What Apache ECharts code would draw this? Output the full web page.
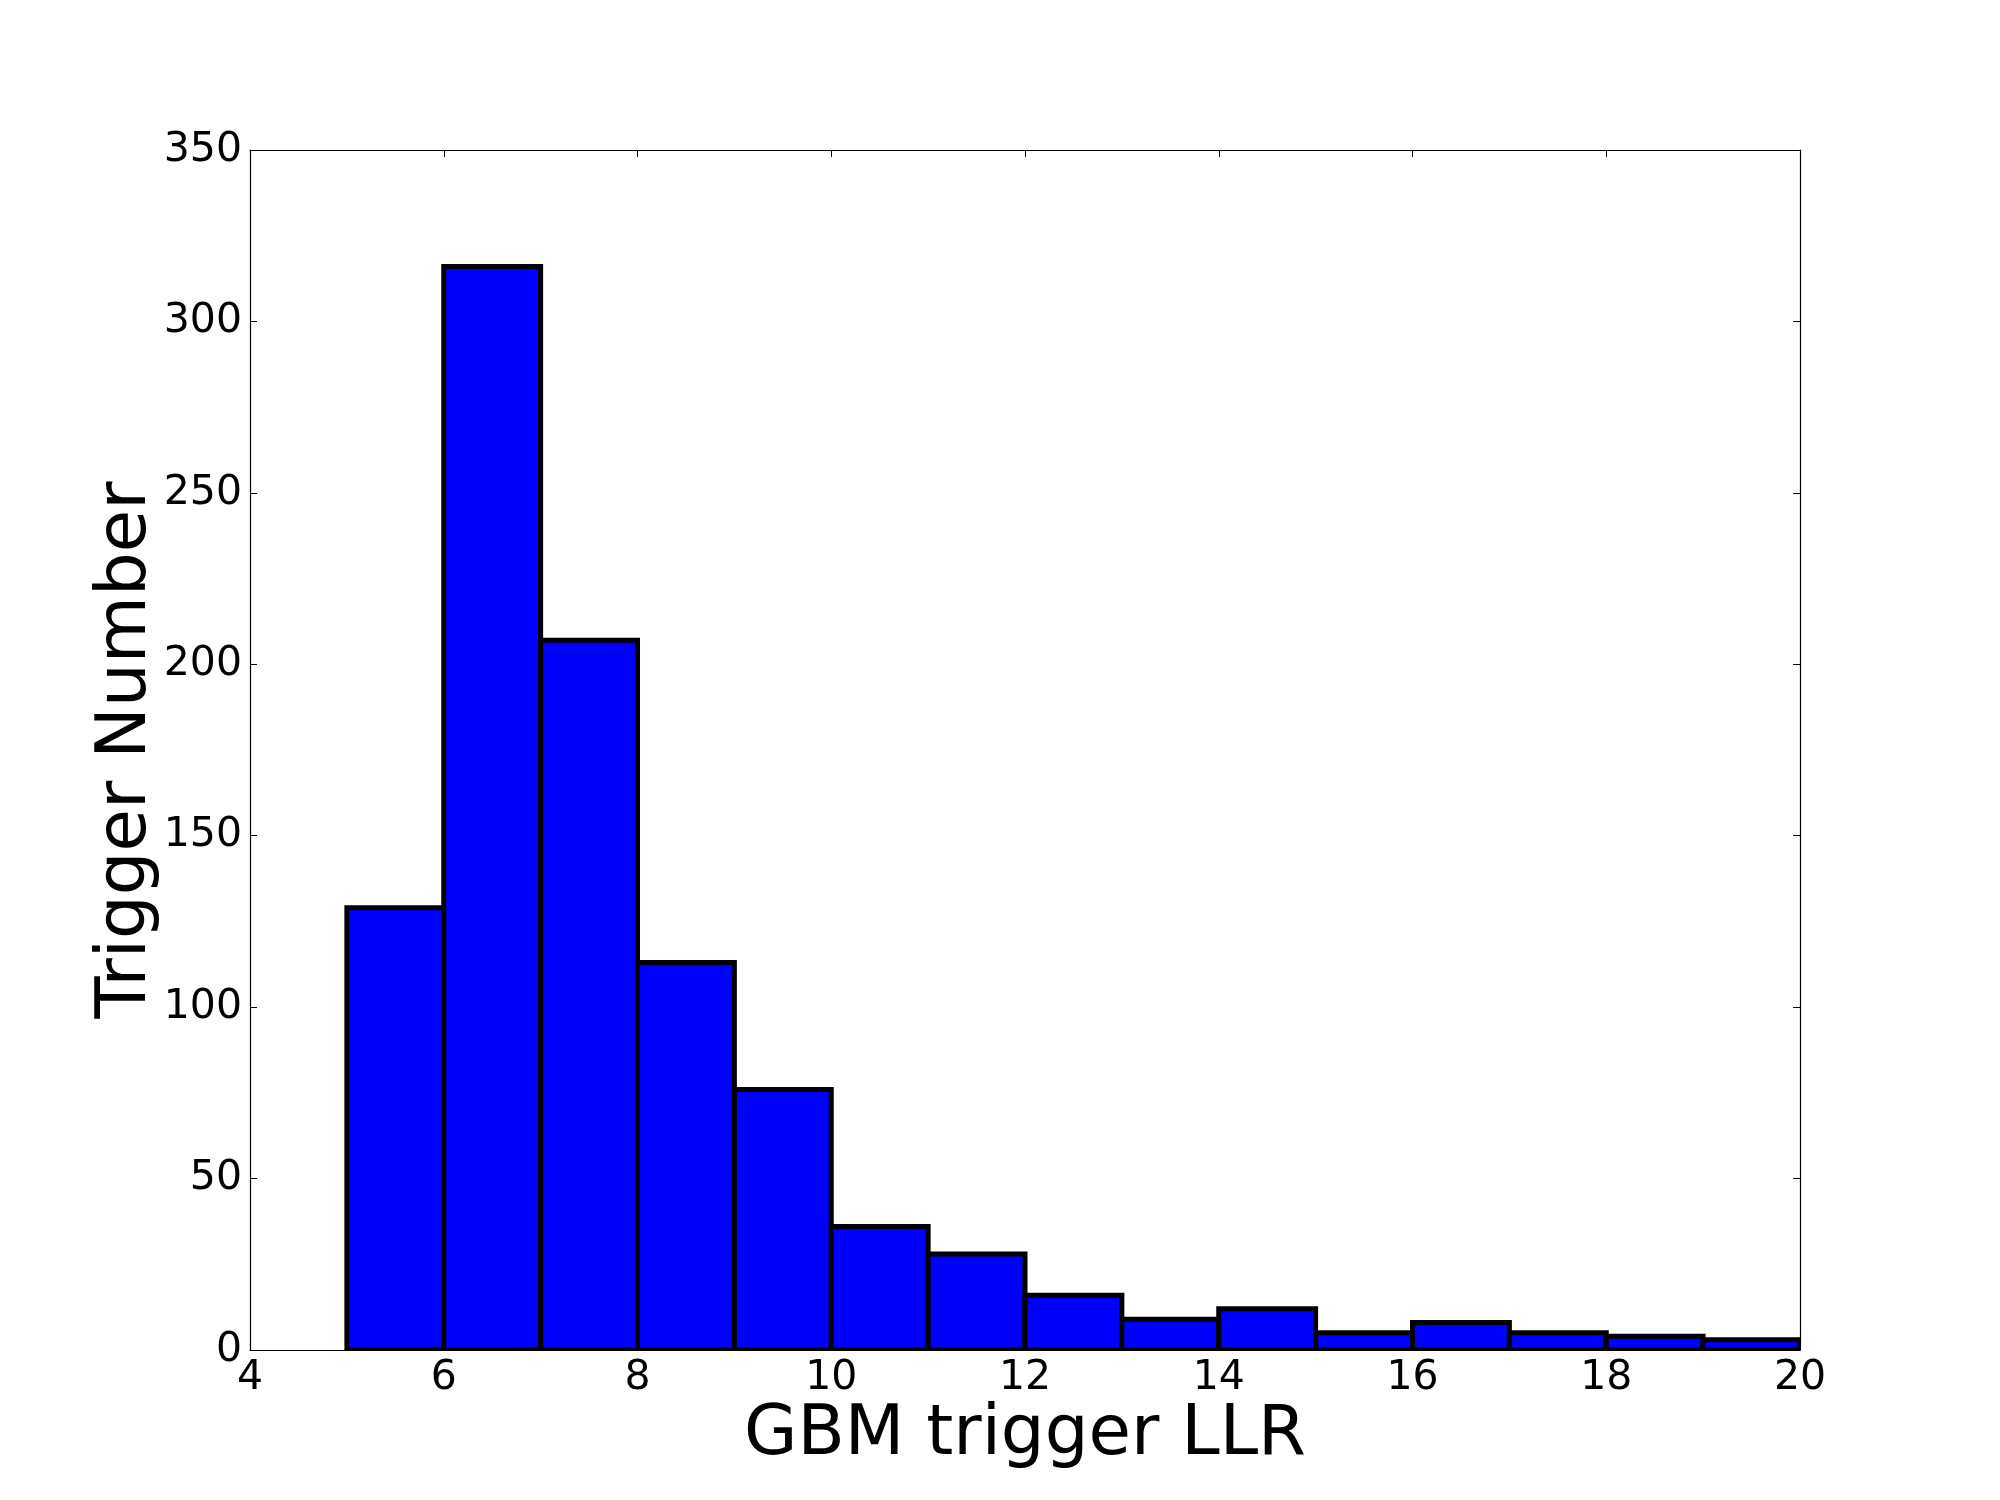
<!DOCTYPE html>
<html>
<head>
<meta charset="utf-8">
<script src="https://cdn.jsdelivr.net/npm/echarts@6/dist/echarts.min.js"></script>
<style>
html,body{margin:0;padding:0;background:#fff;}
#chart{width:2000px;height:1500px;}
</style>
</head>
<body>
<div id="chart"></div>
<script>
// Histogram bins (GBM trigger LLR) and counts
const binStarts = [5, 6, 7, 8, 9, 10, 11, 12, 13, 14, 15, 16, 17, 18, 19];
const binEnds   = [6, 7, 8, 9, 10, 11, 12, 13, 14, 15, 16, 17, 18, 19, 20];
const counts    = [129, 316, 207, 113, 76, 36, 28, 16, 9, 12, 5, 8, 5, 4, 3];
const xTicks = [4, 6, 8, 10, 12, 14, 16, 18, 20];
const yTicks = [0, 50, 100, 150, 200, 250, 300, 350];
const xLabel = 'GBM trigger LLR';
const yLabel = 'Trigger Number';

const data = binStarts.map((s, i) => [s, binEnds[i], counts[i]]);
const FONT = 'DejaVu Sans';

const chart = echarts.init(document.getElementById('chart'), null, {renderer: 'canvas'});

const tickCommon = {show: true, inside: true, length: 7, lineStyle: {color: '#000', width: 1}};
const lineCommon = {show: true, onZero: false, lineStyle: {color: '#000', width: 1.2}};

chart.setOption({
  animation: false,
  backgroundColor: '#fff',
  grid: {left: 250, right: 200, top: 150, bottom: 150, containLabel: false},
  xAxis: [{
    type: 'value',
    min: xTicks[0], max: xTicks[xTicks.length - 1], interval: 2,
    name: xLabel, nameLocation: 'middle', nameGap: 52, nameMoveOverlap: false,
    nameTextStyle: {fontFamily: FONT, fontSize: 69, color: '#000'},
    axisLine: lineCommon, axisTick: tickCommon,
    axisLabel: {fontFamily: FONT, fontSize: 41, color: '#000', margin: 8},
    splitLine: {show: false}
  }, {
    type: 'value', position: 'top',
    min: xTicks[0], max: xTicks[xTicks.length - 1], interval: 2,
    axisLine: lineCommon, axisTick: tickCommon,
    axisLabel: {show: false}, splitLine: {show: false}
  }],
  yAxis: [{
    type: 'value',
    min: yTicks[0], max: yTicks[yTicks.length - 1], interval: 50,
    name: yLabel, nameLocation: 'middle', nameGap: 88, nameRotate: 90, nameMoveOverlap: false,
    nameTextStyle: {fontFamily: FONT, fontSize: 69, color: '#000'},
    axisLine: lineCommon, axisTick: tickCommon,
    axisLabel: {fontFamily: FONT, fontSize: 41, color: '#000', margin: 8},
    splitLine: {show: false}
  }, {
    type: 'value', position: 'right',
    min: yTicks[0], max: yTicks[yTicks.length - 1], interval: 50,
    axisLine: lineCommon, axisTick: tickCommon,
    axisLabel: {show: false}, splitLine: {show: false}
  }],
  series: [{
    type: 'custom',
    xAxisIndex: 0, yAxisIndex: 0,
    clip: true,
    encode: {x: [0, 1], y: 2},
    data: data,
    renderItem: function (params, api) {
      const x0 = api.value(0), x1 = api.value(1), c = api.value(2);
      const p0 = api.coord([x0, c]);
      const p1 = api.coord([x1, 0]);
      return {
        type: 'rect',
        shape: {x: p0[0], y: p0[1], width: p1[0] - p0[0], height: p1[1] - p0[1]},
        style: {fill: '#0000ff', stroke: '#000', lineWidth: 5}
      };
    }
  }]
});
</script>
</body>
</html>
